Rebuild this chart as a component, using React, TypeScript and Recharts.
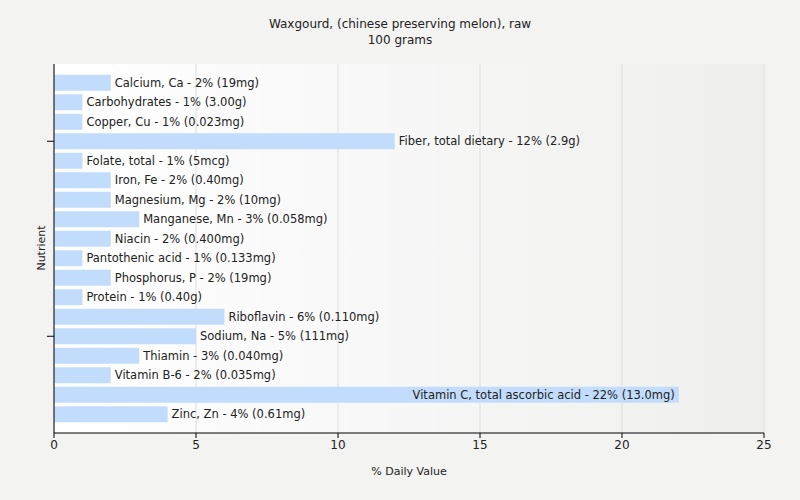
import { BarChart, Bar, XAxis, YAxis, CartesianGrid, LabelList } from 'recharts';

const NUTRIENTS = [
    'Calcium, Ca', 'Carbohydrates', 'Copper, Cu', 'Fiber, total dietary', 'Folate, total',
    'Iron, Fe', 'Magnesium, Mg', 'Manganese, Mn', 'Niacin', 'Pantothenic acid',
    'Phosphorus, P', 'Protein', 'Riboflavin', 'Sodium, Na', 'Thiamin',
    'Vitamin B-6', 'Vitamin C, total ascorbic acid', 'Zinc, Zn',
];
const DAILY_VALUES = [2, 1, 1, 12, 1, 2, 2, 3, 2, 1, 2, 1, 6, 5, 3, 2, 22, 4];
const AMOUNTS = [
    '19mg', '3.00g', '0.023mg', '2.9g', '5mcg', '0.40mg', '10mg', '0.058mg', '0.400mg', '0.133mg',
    '19mg', '0.40g', '0.110mg', '111mg', '0.040mg', '0.035mg', '13.0mg', '0.61mg',
];
const X_TICKS = [0, 5, 10, 15, 20, 25];
const Y_TICK_NAMES = ['Fiber, total dietary', 'Sodium, Na'];

const FONT = '"DejaVu Sans", Verdana, sans-serif';

const data = NUTRIENTS.map((name, i) => ({
    name,
    value: DAILY_VALUES[i],
    label: `${name} - ${DAILY_VALUES[i]}% (${AMOUNTS[i]})`,
}));

function BarLabel(props: any) {
    const { x, y, width, height, value } = props;
    const textWidth = String(value).length * 6.6;
    const end = x + width;
    const inside = end + 4 + textWidth > 760;
    return (
        <text
            x={inside ? end - 4 : end + 4}
            y={y + height / 2}
            dy={4}
            textAnchor={inside ? 'end' : 'start'}
            fontSize={11.5}
            fontFamily={FONT}
            fill="#222"
        >
            {value}
        </text>
    );
}

function YTick(props: any) {
    const { x, y, payload } = props;
    if (!Y_TICK_NAMES.includes(payload.value)) return <g />;
    return <line x1={x - 7} x2={x} y1={y} y2={y} stroke="#000" />;
}

export default function App() {
    return (
        <div style={{ position: 'absolute', left: 0, top: 0, width: 800, height: 500, background: '#f3f3f2', fontFamily: FONT, color: '#222' }}>
            <div style={{ position: 'absolute', top: 16, width: 800, textAlign: 'center', fontSize: 12, lineHeight: '16px' }}>
                Waxgourd, (chinese preserving melon), raw<br />100 grams
            </div>
            <div style={{ position: 'absolute', top: 464, width: 800, left: 9, textAlign: 'center', fontSize: 11, lineHeight: '16px' }}>
                % Daily Value
            </div>
            <div style={{ position: 'absolute', left: 42, top: 248, fontSize: 11, lineHeight: '14px', transform: 'translate(-50%, -50%) rotate(-90deg)', whiteSpace: 'nowrap' }}>
                Nutrient
            </div>
            <BarChart
                width={800}
                height={500}
                data={data}
                layout="vertical"
                margin={{ top: 64, right: 36, bottom: 37, left: 53 }}
                barCategoryGap="9%"
            >
                <defs>
                    <linearGradient id="plotBg" x1="0" y1="0" x2="1" y2="0">
                        <stop offset="0%" stopColor="#ffffff" />
                        <stop offset="100%" stopColor="#efefee" />
                    </linearGradient>
                </defs>
                <CartesianGrid horizontal={false} stroke="#dedede" fill="url(#plotBg)" />
                <XAxis
                    type="number"
                    domain={[0, 25]}
                    ticks={X_TICKS}
                    height={30}
                    stroke="#000"
                    tickSize={5}
                    tick={{ fill: '#222', fontSize: 12, fontFamily: FONT }}
                />
                <YAxis
                    type="category"
                    dataKey="name"
                    width={1}
                    stroke="#000"
                    tickSize={0}
                    tickMargin={0}
                    tickLine={false}
                    interval={0}
                    padding={{ top: 9, bottom: 9 }}
                    tick={<YTick />}
                />
                <Bar dataKey="value" fill="#c2dcfb" isAnimationActive={false}>
                    <LabelList dataKey="label" content={<BarLabel />} />
                </Bar>
            </BarChart>
        </div>
    );
}
